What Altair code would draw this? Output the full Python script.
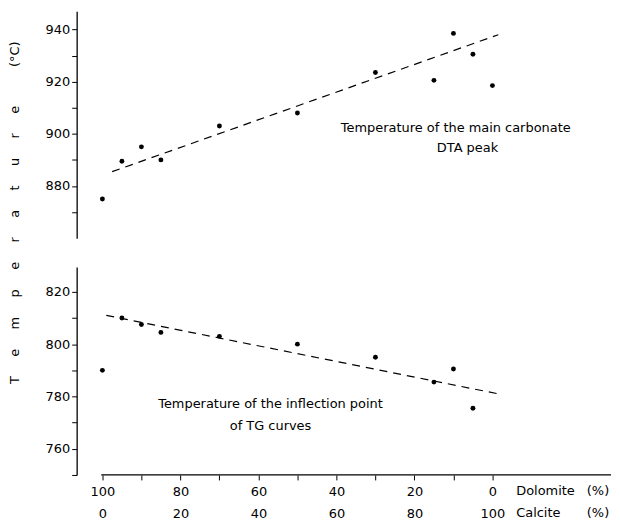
import altair as alt
import pandas as pd

# ---- data ----
dolomite_top = [100, 95, 90, 85, 70, 50, 30, 15, 10, 5, 0]
dta_peak = [875, 889.5, 895, 890, 903, 908, 923.5, 920.5, 938.5, 930.5, 918.5]

dolomite_bottom = [100, 95, 90, 85, 70, 50, 30, 15, 10, 5]
tg_inflection = [790, 810, 807.5, 804.5, 803, 800, 795, 785.5, 790.5, 775.5]

dta_trend_x = [97.5, -1.5]
dta_trend_y = [885.5, 938]
tg_trend_x = [99, -1.5]
tg_trend_y = [811, 781]

top_ticks = [870, 880, 890, 900, 910, 920, 930, 940]
bottom_ticks = [750, 760, 770, 780, 790, 800, 810, 820]
x_ticks = [0, 10, 20, 30, 40, 50, 60, 70, 80, 90, 100]
dolomite_labels = [100, 80, 60, 40, 20, 0]
calcite_labels = [0, 20, 40, 60, 80, 100]

top_notes = ["Temperature of the main carbonate", "DTA peak"]
top_notes_x = [9.4, 6.4]
top_notes_y = [902.3, 894.7]
bottom_notes = ["Temperature of the inflection point", "of TG curves"]
bottom_notes_x = [56.9, 56.9]
bottom_notes_y = [777.1, 768.7]

row_names = ["Dolomite", "Calcite"]
row_units = ["(%)", "(%)"]
row_y = [743.9, 735.5]
row_name_x = -6.1
row_unit_x = -24.2

FONT = "DejaVu Sans"
W = 537
sp = "\u2003\u2002"
y_title = sp.join(list("Temperature")) + "\u2003\u2003\u2003" + "(°C)"

x_scale = alt.Scale(domain=[106.6, -30.4], nice=False, zero=False)

# ---------- top panel ----------
top_pts = pd.DataFrame({"d": dolomite_top, "temp": dta_peak})
top_line = pd.DataFrame({"d": dta_trend_x, "temp": dta_trend_y})
top_txt = pd.DataFrame({"d": top_notes_x, "temp": top_notes_y, "label": top_notes})

top_x = alt.X("d:Q", scale=x_scale, axis=None)
top_y = alt.Y(
    "temp:Q",
    scale=alt.Scale(domain=[860, 947], nice=False, zero=False),
    axis=alt.Axis(
        values=top_ticks,
        labelExpr="datum.value % 20 == 0 ? datum.label : ''",
        title=y_title,
        titleX=-62,
        titleY=202,
        titleAngle=270,
        titleAlign="center",
        titleBaseline="middle",
    ),
)

top = alt.layer(
    alt.Chart(top_line).mark_line(color="black", strokeDash=[8, 6], strokeWidth=1.2).encode(x=top_x, y=top_y),
    alt.Chart(top_pts).mark_circle(color="black", size=24, opacity=1).encode(x=top_x, y=top_y),
    alt.Chart(top_txt).mark_text(font=FONT, fontSize=13, align="center", color="black").encode(
        x=top_x, y=top_y, text="label:N"
    ),
).properties(width=W, height=228)

# ---------- bottom panel ----------
label_expr = "''"
for dv, cv in zip(dolomite_labels, calcite_labels):
    label_expr = f"datum.value == {dv} ? ['{dv}', '{cv}'] : " + label_expr

bot_pts = pd.DataFrame({"d": dolomite_bottom, "temp": tg_inflection})
bot_line = pd.DataFrame({"d": tg_trend_x, "temp": tg_trend_y})
bot_txt = pd.DataFrame({"d": bottom_notes_x, "temp": bottom_notes_y, "label": bottom_notes})
axis_line = pd.DataFrame({"d": [100.3], "d2": [-30.4], "temp": [750]})
rows_a = pd.DataFrame({"d": [row_name_x] * 2, "temp": row_y, "label": row_names})
rows_b = pd.DataFrame({"d": [row_unit_x] * 2, "temp": row_y, "label": row_units})

bot_x = alt.X(
    "d:Q",
    scale=x_scale,
    axis=alt.Axis(
        values=x_ticks,
        labelExpr=label_expr,
        domain=False,
        title=None,
        labelLineHeight=22,
        labelPadding=6,
        labelOverlap=False,
        labelFlush=False,
    ),
)
bot_y = alt.Y(
    "temp:Q",
    scale=alt.Scale(domain=[750, 829.5], nice=False, zero=False),
    axis=alt.Axis(
        values=bottom_ticks,
        labelExpr="datum.value % 20 == 0 ? datum.label : ''",
        title=None,
    ),
)

bottom = alt.layer(
    alt.Chart(axis_line).mark_rule(color="black", strokeWidth=1.3).encode(x=bot_x, x2="d2:Q", y=bot_y),
    alt.Chart(bot_line).mark_line(color="black", strokeDash=[8, 6], strokeWidth=1.2).encode(x=bot_x, y=bot_y),
    alt.Chart(bot_pts).mark_circle(color="black", size=24, opacity=1).encode(x=bot_x, y=bot_y),
    alt.Chart(bot_txt).mark_text(font=FONT, fontSize=13, align="center", color="black").encode(
        x=bot_x, y=bot_y, text="label:N"
    ),
    alt.Chart(rows_a).mark_text(font=FONT, fontSize=13, align="left", color="black").encode(
        x=bot_x, y=bot_y, text="label:N"
    ),
    alt.Chart(rows_b).mark_text(font=FONT, fontSize=13, align="left", color="black").encode(
        x=bot_x, y=bot_y, text="label:N"
    ),
).properties(width=W, height=209)

chart = (
    alt.vconcat(top, bottom, spacing=29, bounds="flush")
    .properties(padding={"left": 0, "top": 2, "right": 0, "bottom": 0}, background="white")
    .configure_view(stroke=None)
    .configure_axis(
        grid=False,
        domainColor="black",
        domainWidth=1.3,
        tickColor="black",
        tickSize=5,
        labelColor="black",
        labelFont=FONT,
        labelFontSize=13,
        titleFont=FONT,
        titleFontSize=13,
        titleFontWeight="normal",
        titleColor="black",
    )
)

chart.save("out.html", embed_options={"renderer": "svg", "actions": False})
